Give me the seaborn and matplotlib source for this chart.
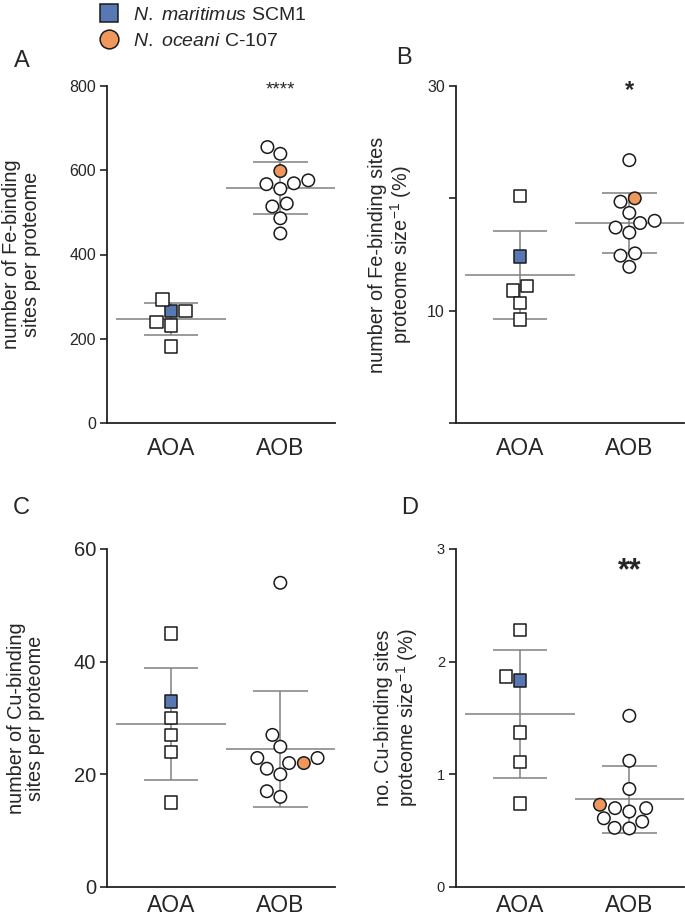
import numpy as np
import pandas as pd
import matplotlib.pyplot as plt
from matplotlib.lines import Line2D
import seaborn as sns

sns.set_theme(style="ticks")
plt.rcParams["font.family"] = ["Liberation Sans", "DejaVu Sans"]
plt.rcParams["mathtext.fontset"] = "custom"
plt.rcParams["mathtext.rm"] = "Liberation Sans"
plt.rcParams["mathtext.it"] = "Liberation Sans:italic"

GROUPS = ["AOA", "AOB"]
SCM1 = "N. maritimus SCM1"
C107 = "N. oceani C-107"
HUE_ORDER = ["other", SCM1, C107]
PALETTE = {"other": "white", SCM1: "#5878b4", C107: "#ef975c"}
EDGE = "#1a1a1a"
LINE = "#808080"

# first value of each group is the highlighted strain (SCM1 / C-107)
fe_sites_aoa = [266, 293, 266, 240, 232, 182]
fe_sites_aob = [598, 655, 639, 576, 567, 569, 556, 521, 514, 486, 450]
fe_pct_aoa = [14.8, 20.2, 12.2, 11.8, 10.7, 9.2]
fe_pct_aob = [20.0, 23.4, 19.7, 18.7, 18.0, 17.8, 17.4, 16.95, 15.1, 14.9, 13.9]
cu_sites_aoa = [32.9, 45, 30, 27, 24, 15]
cu_sites_aob = [22.0, 54, 27, 24.9, 22.9, 22.9, 22.0, 21.0, 20.0, 17.0, 16.0]
cu_pct_aoa = [1.835, 2.28, 1.87, 1.37, 1.11, 0.74]
cu_pct_aob = [0.73, 1.52, 1.12, 0.87, 0.70, 0.70, 0.67, 0.61, 0.58, 0.52, 0.525]


def build_frame(aoa, aob):
    df = pd.DataFrame({
        "group": ["AOA"] * len(aoa) + ["AOB"] * len(aob),
        "value": list(aoa) + list(aob),
    })
    df["strain"] = "other"
    df.loc[0, "strain"] = SCM1
    df.loc[len(aoa), "strain"] = C107
    return df


def draw_panel(ax, df, ylim, yticks, yticklabels, ylabel, label_x, tick_size,
               xpad=10, stars=None):
    for grp, marker in zip(GROUPS, ["s", "o"]):
        sns.swarmplot(data=df[df["group"] == grp], x="group", y="value", hue="strain",
                      order=GROUPS, hue_order=HUE_ORDER, palette=PALETTE, marker=marker,
                      size=9, edgecolor=EDGE, linewidth=1.1, legend=False, ax=ax, zorder=3)

    # mean +/- SD
    stats = df.groupby("group")["value"].agg(["mean", "std"]).reindex(GROUPS)
    for i, (m, s) in enumerate(zip(stats["mean"], stats["std"])):
        ax.hlines(m, i - 0.5, i + 0.5, color=LINE, lw=1.1, zorder=2)
        ax.hlines([m - s, m + s], i - 0.25, i + 0.25, color=LINE, lw=1.1, zorder=2)
        ax.vlines(i, m - s, m + s, color=LINE, lw=1.1, zorder=2)

    ax.set_xlim(-0.585, 1.5)
    ax.set_ylim(*ylim)
    ax.set_yticks(yticks)
    ax.set_yticklabels(yticklabels)
    ax.set_xlabel("")
    ax.set_ylabel(ylabel, fontsize=14.3, linespacing=1.05)
    ax.yaxis.set_label_coords(label_x, 0.5)
    sns.despine(ax=ax)
    for sp in ["left", "bottom"]:
        ax.spines[sp].set_linewidth(1.3)
        ax.spines[sp].set_color("#222222")
    ax.tick_params(axis="y", length=5, width=1.2, color="#222222", labelsize=tick_size, pad=3)
    ax.tick_params(axis="x", length=0, labelsize=16.5, pad=xpad)

    if stars is not None:
        text, y, size, weight = stars
        ax.text(1, y, text, ha="center", va="center", fontsize=size, fontweight=weight)


W, H = 685, 916
fig = plt.figure(figsize=(W / 100, H / 100), dpi=100)


def add_axes(left, top, right, bottom):
    return fig.add_axes([left / W, 1 - bottom / H, (right - left) / W, (bottom - top) / H])


ax_a = add_axes(107, 86, 335, 423)
ax_b = add_axes(456, 86, 684, 423)
ax_c = add_axes(107, 549, 335, 887)
ax_d = add_axes(456, 549, 684, 887)

draw_panel(ax_a, build_frame(fe_sites_aoa, fe_sites_aob), (0, 800), [0, 200, 400, 600, 800],
           ["0", "200", "400", "600", "800"],
           "number of Fe-binding\nsites per proteome", -0.29, 11.5,
           stars=("****", 790, 13.5, "normal"))
draw_panel(ax_b, build_frame(fe_pct_aoa, fe_pct_aob), (0, 30), [0, 10, 20, 30],
           ["", "10", "", "30"],
           "number of Fe-binding sites\nproteome size$^{\\mathregular{-1}}$ (%)", -0.185, 11.5,
           stars=("*", 29.6, 17, "bold"))
draw_panel(ax_c, build_frame(cu_sites_aoa, cu_sites_aob), (0, 60), [0, 20, 40, 60],
           ["0", "20", "40", "60"],
           "number of Cu-binding\nsites per proteome", -0.27, 14.5, xpad=5)
draw_panel(ax_d, build_frame(cu_pct_aoa, cu_pct_aob), (0, 3), [0, 1, 2, 3],
           ["0", "1", "2", "3"],
           "no. Cu-binding sites\nproteome size$^{\\mathregular{-1}}$ (%)", -0.16, 10.5, xpad=5,
           stars=("**", 2.8, 22, "bold"))

for letter, x, y in [("A", 22, 61), ("B", 404, 58), ("C", 21, 508), ("D", 410, 508)]:
    fig.text(x / W, 1 - y / H, letter, ha="center", va="center", fontsize=17)

handles = [
    Line2D([], [], marker="s", ls="", markersize=13.5, markerfacecolor=PALETTE[SCM1],
           markeredgecolor=EDGE, markeredgewidth=1.1),
    Line2D([], [], marker="o", ls="", markersize=13.5, markerfacecolor=PALETTE[C107],
           markeredgecolor=EDGE, markeredgewidth=1.1),
]
labels = [r"$\it{N.\ maritimus}$ SCM1", r"$\it{N.\ oceani}$ C-107"]
fig.legend(handles, labels, loc="upper left", bbox_to_anchor=(86 / W, 1 + 5 / H), frameon=False,
           fontsize=14, handlelength=1.2, handletextpad=0.6, labelspacing=0.4, borderpad=0.1)

fig.savefig("out.png", dpi=100)
